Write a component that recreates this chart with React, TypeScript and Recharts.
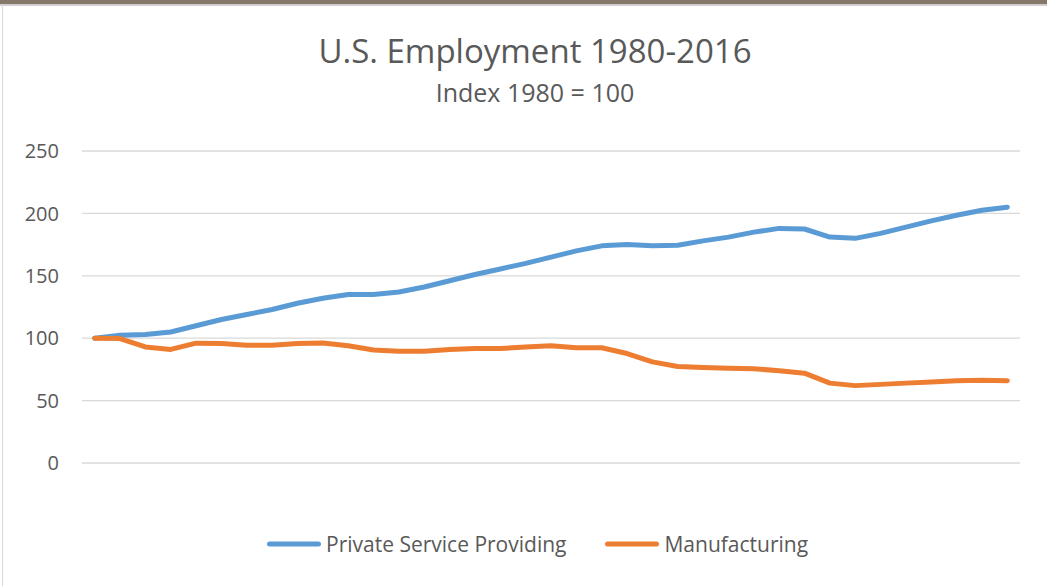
import { LineChart, Line, XAxis, YAxis, CartesianGrid } from "recharts";

const years = [
  1980, 1981, 1982, 1983, 1984, 1985, 1986, 1987, 1988, 1989, 1990, 1991, 1992,
  1993, 1994, 1995, 1996, 1997, 1998, 1999, 2000, 2001, 2002, 2003, 2004, 2005,
  2006, 2007, 2008, 2009, 2010, 2011, 2012, 2013, 2014, 2015, 2016,
];

const services = [
  100, 102.4, 103, 105, 110, 115, 119, 123, 128, 132, 135, 135, 137, 141, 146,
  151, 155.5, 160, 165, 170, 174, 175, 174, 174.5, 178, 181, 185, 188, 187.5,
  181, 180, 184, 189, 194, 198.5, 202.5, 205,
];

const manufacturing = [
  100, 99.7, 93, 91, 96, 95.7, 94.4, 94.4, 95.7, 96.2, 94, 90.6, 89.6, 89.6, 91,
  91.7, 91.7, 93, 94, 92.3, 92.3, 87.7, 81, 77.3, 76.5, 76, 75.5, 74, 72, 64,
  62, 63, 64, 65, 66, 66.4, 66,
];

const yTicks = [0, 50, 100, 150, 200, 250];

const data = years.map((year, i) => ({
  year,
  services: services[i],
  manufacturing: manufacturing[i],
}));

const font = "'Open Sans', sans-serif";
const textColor = "#595959";

const legendItems = [
  { label: "Private Service Providing", color: "#5b9bd5" },
  { label: "Manufacturing", color: "#ed7d31" },
];

export default function App() {
  return (
    <div
      style={{
        position: "fixed",
        left: 0,
        top: 0,
        width: 1047,
        height: 586,
        background: "#fff",
        fontFamily: font,
        overflow: "hidden",
      }}
    >
      <div style={{ position: "absolute", left: 0, top: 0, width: 1047, height: 4, background: "#857869" }} />
      <div style={{ position: "absolute", left: 0, top: 4, width: 1047, height: 2, background: "#cfcfcf" }} />
      <div style={{ position: "absolute", left: 2, top: 4, width: 1, height: 582, background: "#d9d9d9" }} />

      <div
        style={{
          position: "absolute",
          left: 0,
          width: 1070,
          top: 31,
          textAlign: "center",
          color: textColor,
          fontSize: 33,
          lineHeight: "40px",
        }}
      >
        U.S. Employment 1980-2016
      </div>
      <div
        style={{
          position: "absolute",
          left: 0,
          width: 1070,
          top: 77,
          textAlign: "center",
          color: textColor,
          fontSize: 25,
          lineHeight: "30px",
        }}
      >
        Index 1980 = 100
      </div>

      <div style={{ position: "absolute", left: 0, top: 0 }}>
        <LineChart
          width={1047}
          height={586}
          data={data}
          margin={{ top: 151, right: 27, bottom: 123, left: 0 }}
        >
          <CartesianGrid vertical={false} stroke="#d9d9d9" strokeWidth={1.3} />
          <XAxis dataKey="year" hide scale="band" />
          <YAxis
            domain={[0, 250]}
            ticks={yTicks}
            width={82}
            axisLine={false}
            tickLine={false}
            tickMargin={17}
            tick={{ fill: textColor, fontSize: 20, fontFamily: font }}
          />
          <Line
            type="linear"
            dataKey="services"
            stroke="#5b9bd5"
            strokeWidth={5}
            strokeLinecap="round"
            strokeLinejoin="round"
            dot={false}
            isAnimationActive={false}
          />
          <Line
            type="linear"
            dataKey="manufacturing"
            stroke="#ed7d31"
            strokeWidth={5}
            strokeLinecap="round"
            strokeLinejoin="round"
            dot={false}
            isAnimationActive={false}
          />
        </LineChart>
      </div>

      <div
        style={{
          position: "absolute",
          left: 267,
          top: 529,
          display: "flex",
          gap: 39,
          color: textColor,
          fontSize: 21,
          lineHeight: "30px",
        }}
      >
        {legendItems.map((item) => (
          <div key={item.label} style={{ display: "flex", alignItems: "center" }}>
            <svg width={54} height={10} style={{ marginRight: 5 }}>
              <line x1={2.5} y1={5} x2={51.5} y2={5} stroke={item.color} strokeWidth={5} strokeLinecap="round" />
            </svg>
            <span>{item.label}</span>
          </div>
        ))}
      </div>
    </div>
  );
}
